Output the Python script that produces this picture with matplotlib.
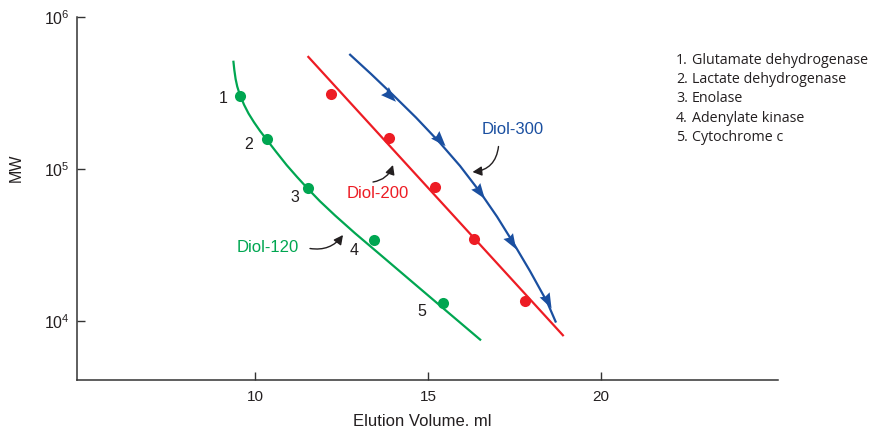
import numpy as np
import matplotlib
matplotlib.use("Agg")
import matplotlib.pyplot as plt
from matplotlib.markers import MarkerStyle
from matplotlib.path import Path
from matplotlib.transforms import Affine2D

# ---------------- data ----------------
protein_numbers = ["1", "2", "3", "4", "5"]
protein_names = ["Glutamate dehydrogenase", "Lactate dehydrogenase", "Enolase",
                 "Adenylate kinase", "Cytochrome c"]

diol120_ve = [9.58, 10.36, 11.52, 13.43, 15.44]
diol120_mw = [3.0e5, 1.57e5, 7.5e4, 3.41e4, 1.31e4]
diol200_ve = [12.19, 13.88, 15.19, 16.33, 17.80]
diol200_mw = [3.1e5, 1.61e5, 7.6e4, 3.46e4, 1.35e4]
diol300_ve = [13.88, 15.31, 16.46, 17.39, 18.43]
diol300_mw = [3.07e5, 1.57e5, 7.16e4, 3.38e4, 1.37e4]

# calibration curves
diol120_curve_ve = [9.373, 9.402, 9.439, 9.486, 9.538, 9.587, 9.682, 9.812, 9.971, 10.145,
                    10.338, 10.607, 10.916, 11.214, 11.512, 11.879, 12.312, 12.890, 13.613,
                    14.480, 15.491, 16.532]
diol120_curve_mw = [5.16e5, 4.48e5, 3.91e5, 3.49e5, 3.20e5, 2.99e5, 2.65e5, 2.32e5, 2.03e5, 1.78e5,
                    1.56e5, 1.30e5, 1.06e5, 8.87e4, 7.48e4, 6.13e4, 4.95e4, 3.78e4, 2.74e4,
                    1.86e4, 1.185e4, 7.46e3]
diol200_curve_ve = [11.52, 18.92]
diol200_curve_mw = [5.53e5, 7.96e3]
diol300_curve_ve = [12.725, 13.353, 13.988, 14.653, 15.347, 15.925, 16.503, 16.994, 17.457,
                    17.948, 18.439, 18.699]
diol300_curve_mw = [5.71e5, 4.22e5, 3.07e5, 2.18e5, 1.485e5, 1.048e5, 7.06e4, 4.86e4, 3.29e4,
                    2.13e4, 1.338e4, 9.77e3]

x_ticks = [10, 15, 20]
y_ticks = [1e4, 1e5, 1e6]
y_tick_labels = ["$10^4$", "$10^5$", "$10^6$"]

# ---------------- style ----------------
GREEN = "#00a651"
RED = "#ed1c24"
BLUE = "#1a4fa0"
INK = "#231f20"

plt.rcParams["font.family"] = ["Liberation Sans", "DejaVu Sans"]
plt.rcParams["mathtext.fontset"] = "custom"
plt.rcParams["mathtext.rm"] = "Liberation Sans"
plt.rcParams["mathtext.it"] = "Liberation Sans:italic"
plt.rcParams["mathtext.bf"] = "Liberation Sans:bold"

W, H = 872, 429
fig = plt.figure(figsize=(W / 100, H / 100), dpi=100)
ax = fig.add_axes([77 / W, 49 / H, 701 / W, 363 / H])

ax.set_yscale("log")
ax.set_xlim(4.855, 25.115)
ax.set_ylim(10 ** 3.612, 1e6)

for s in ["top", "right"]:
    ax.spines[s].set_visible(False)
for s in ["left", "bottom"]:
    ax.spines[s].set_color("#333333")
    ax.spines[s].set_linewidth(1.1)

ax.set_xticks(x_ticks)
ax.set_xticklabels([str(t) for t in x_ticks])
ax.set_yticks(y_ticks)
ax.set_yticklabels(y_tick_labels)
ax.yaxis.set_minor_locator(matplotlib.ticker.NullLocator())
ax.tick_params(axis="both", direction="in", length=6, width=1, color="#333333",
               labelsize=11, labelcolor=INK)
ax.tick_params(axis="x", pad=7.5)
ax.tick_params(axis="y", pad=5, labelsize=11.5)

# curves
ax.plot(diol120_curve_ve, diol120_curve_mw, color=GREEN, lw=1.6, solid_capstyle="butt",
        solid_joinstyle="round")
ax.plot(diol200_curve_ve, diol200_curve_mw, color=RED, lw=1.6, solid_capstyle="butt")
ax.plot(diol300_curve_ve, diol300_curve_mw, color=BLUE, lw=1.6, solid_capstyle="butt",
        solid_joinstyle="round")

# points
ax.plot(diol120_ve, diol120_mw, "o", color=GREEN, ms=8, mec="none")
ax.plot(diol200_ve, diol200_mw, "o", color=RED, ms=8, mec="none")

# arrowhead markers on Diol-300, oriented along the curve
arrow_path = Path([(0, 1), (-0.62, -0.7), (0, -0.5), (0.62, -0.7), (0, 1)],
                  [Path.MOVETO, Path.LINETO, Path.LINETO, Path.LINETO, Path.CLOSEPOLY])
curve_disp = ax.transData.transform(np.column_stack([diol300_curve_ve, diol300_curve_mw]))
pts_disp = ax.transData.transform(np.column_stack([diol300_ve, diol300_mw]))
for (xv, yv), pd in zip(zip(diol300_ve, diol300_mw), pts_disp):
    i = int(np.argmin(np.hypot(*(curve_disp - pd).T)))
    i0, i1 = max(i - 1, 0), min(i + 1, len(curve_disp) - 1)
    d = curve_disp[i1] - curve_disp[i0]
    ang = np.degrees(np.arctan2(d[1], d[0])) - 90
    m = MarkerStyle(arrow_path, transform=Affine2D().rotate_deg(ang))
    ax.plot([xv], [yv], marker=m, color=BLUE, ms=13, mec="none", ls="none")

# protein number labels next to Diol-120 points
num_offsets = [(-17, -2), (-19, -5), (-13, -9), (-20, -10), (-21, -8)]
for num, xv, yv, off in zip(protein_numbers, diol120_ve, diol120_mw, num_offsets):
    ax.annotate(num, (xv, yv), xytext=off, textcoords="offset pixels",
                ha="center", va="center", fontsize=11.5, color=INK)

# column labels with curved arrows (figure pixel coordinates)
def fp(x, y):
    return (x, H - y)

ax.annotate("Diol-120", xy=fp(268, 248), xycoords="figure pixels", ha="center", va="center",
            fontsize=12, color=GREEN)
ax.annotate("Diol-200", xy=fp(378, 193), xycoords="figure pixels", ha="center", va="center",
            fontsize=12, color=RED)
ax.annotate("Diol-300", xy=fp(513, 130), xycoords="figure pixels", ha="center", va="center",
            fontsize=12, color=BLUE)

arrow_kw = dict(arrowstyle="-|>,head_length=0.55,head_width=0.28", color=INK, lw=1.0,
                shrinkA=0, shrinkB=0, mutation_scale=10)
ax.annotate("", xy=fp(343, 235), xytext=fp(310, 248.5), xycoords="figure pixels",
            textcoords="figure pixels",
            arrowprops=dict(connectionstyle="arc3,rad=0.3", **arrow_kw))
ax.annotate("", xy=fp(393, 165), xytext=fp(373, 182), xycoords="figure pixels",
            textcoords="figure pixels",
            arrowprops=dict(connectionstyle="arc3,rad=0.3", **arrow_kw))
ax.annotate("", xy=fp(472.5, 172), xytext=fp(498.5, 146.5), xycoords="figure pixels",
            textcoords="figure pixels",
            arrowprops=dict(connectionstyle="arc3,rad=-0.4", **arrow_kw))

# protein list
list_y = [60, 79.5, 99, 118.3, 137.7]
for num, name, yy in zip(protein_numbers, protein_names, list_y):
    fig.text(676 / W, (H - yy) / H, num + ".", ha="left", va="center",
             fontsize=10.3, family=["Open Sans", "DejaVu Sans"], color=INK)
    fig.text(692 / W, (H - yy) / H, name, ha="left", va="center",
             fontsize=10.3, family=["Open Sans", "DejaVu Sans"], color=INK)

# axis labels
fig.text(422 / W, (H - 421.5) / H, "Elution Volume. ml", ha="center", va="center",
         fontsize=12, color=INK)
fig.text(16 / W, (H - 168) / H, "MW", ha="center", va="center", rotation=90,
         fontsize=11.5, color=INK)

fig.savefig("out.png", dpi=100)
